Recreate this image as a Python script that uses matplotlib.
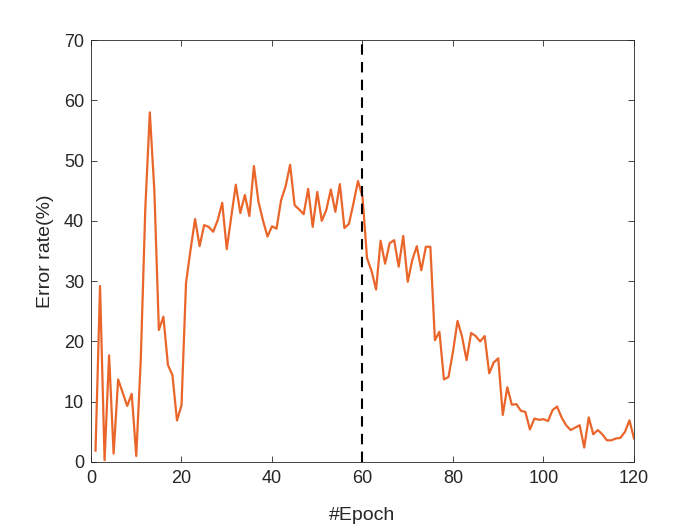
import matplotlib
matplotlib.use("Agg")
import matplotlib.pyplot as plt
import numpy as np

epochs = np.arange(1, 121)
error_rate = [
    1.9, 29.2, 0.3, 17.7, 1.4, 13.7, 11.5, 9.3, 11.3, 1.0,
    17.0, 42.0, 58.0, 45.0, 21.9, 24.1, 16.1, 14.4, 6.9, 9.4,
    29.7, 35.2, 40.3, 35.8, 39.3, 39.0, 38.2, 40.1, 43.0, 35.3,
    40.7, 46.0, 41.3, 44.3, 40.8, 49.1, 43.2, 40.1, 37.4, 39.1,
    38.7, 43.4, 45.7, 49.3, 42.6, 41.9, 41.1, 45.3, 39.0, 44.8,
    40.0, 41.8, 45.2, 41.5, 46.1, 38.8, 39.5, 42.9, 46.6, 44.0,
    33.8, 31.7, 28.6, 36.7, 32.9, 36.3, 36.8, 32.4, 37.5, 29.9,
    33.5, 35.8, 31.8, 35.7, 35.7, 20.2, 21.6, 13.7, 14.1, 18.3,
    23.4, 20.8, 16.9, 21.4, 20.9, 20.0, 20.9, 14.7, 16.5, 17.2,
    7.8, 12.4, 9.5, 9.6, 8.5, 8.3, 5.4, 7.2, 7.0, 7.1,
    6.8, 8.6, 9.2, 7.4, 6.1, 5.3, 5.7, 6.1, 2.4, 7.4,
    4.6, 5.3, 4.6, 3.6, 3.6, 3.9, 4.0, 5.0, 6.9, 3.9,
]
split_epoch = 60

plt.rcParams["font.family"] = ["Liberation Sans", "DejaVu Sans"]
AX = "#262626"

fig = plt.figure(figsize=(7, 5.25), dpi=100)
ax = fig.add_axes([0.13, 0.12, 0.7757, 0.8038])
ax.plot(epochs, error_rate, color="#EA652A", lw=1.6)
ax.axvline(split_epoch, color="black", ls=(0, (5, 3.5)), lw=1.5)

ax.set_xlim(0, 120); ax.set_ylim(0, 70)
ax.set_xticks(range(0, 121, 20)); ax.set_yticks(range(0, 71, 10))
ax.tick_params(direction="in", length=4, width=0.6, colors=AX, labelsize=13,
               top=True, right=True, labeltop=False, labelright=False)
ax.tick_params(axis="x", pad=6)
ax.tick_params(axis="y", pad=5)
for s in ax.spines.values():
    s.set_color(AX); s.set_linewidth(0.6)
ax.set_xlabel("#Epoch", fontsize=14, color=AX, labelpad=14)
ax.set_ylabel("Error rate(%)", fontsize=14, color=AX, labelpad=7)

fig.savefig("out.png", dpi=100)
